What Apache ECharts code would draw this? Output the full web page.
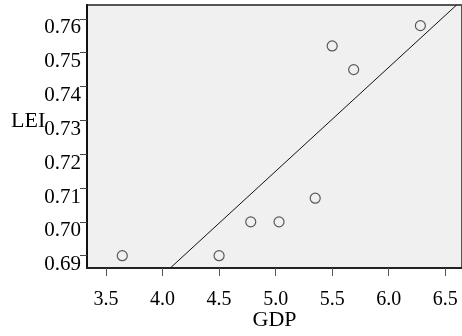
<!DOCTYPE html>
<html><head><meta charset="utf-8">
<script src="https://cdn.jsdelivr.net/npm/echarts@6/dist/echarts.min.js"></script>
<style>html,body{margin:0;padding:0;background:#fff}#c{width:462px;height:336px}</style>
</head><body><div id="c"></div>
<script>
const gdp = [3.644, 4.50, 4.78, 5.03, 5.35, 5.50, 5.69, 6.28];
const lei = [0.690, 0.690, 0.700, 0.700, 0.707, 0.752, 0.745, 0.758];
const fitX = [4.07, 6.60];
const fitY = [0.6864, 0.7641];
const xTicks = [3.5, 4.0, 4.5, 5.0, 5.5, 6.0, 6.5];
const yTicks = [0.69, 0.70, 0.71, 0.72, 0.73, 0.74, 0.75, 0.76];

const font = '"Liberation Serif","Times New Roman",serif';
const chart = echarts.init(document.getElementById('c'));
chart.setOption({
  animation: false,
  grid: {left: 87, top: 5, right: 0, bottom: 68, show: true, backgroundColor: '#f0f0f0', borderColor: '#555', borderWidth: 2,
    containLabel: false, outerBoundsMode: 'none'},
  xAxis: {
    type: 'value', min: 3.332, max: 6.648,
    name: 'GDP', nameLocation: 'middle', nameGap: 41, nameMoveOverlap: false,
    nameTextStyle: {fontFamily: font, fontSize: 22, color: '#000'},
    axisLine: {show: true, lineStyle: {color: '#222', width: 2}},
    axisTick: {show: true, length: 8, customValues: xTicks, lineStyle: {color: '#555'}},
    axisLabel: {customValues: xTicks, fontFamily: font, fontSize: 20, color: '#000', margin: 22,
      formatter: v => v.toFixed(1)},
    splitLine: {show: false}
  },
  yAxis: {
    type: 'value', min: 0.68636, max: 0.7641,
    axisLine: {show: true, lineStyle: {color: '#111', width: 2}},
    axisTick: {show: true, length: 7, customValues: yTicks, lineStyle: {color: '#444'}},
    axisLabel: {customValues: yTicks, fontFamily: font, fontSize: 21, color: '#000', margin: 6,
      verticalAlign: 'top', lineHeight: 18,
      formatter: v => v.toFixed(2)},
    splitLine: {show: false}
  },
  graphic: [{type: 'text', left: 11, top: 110, style: {text: 'LEI', font: '22px ' + font, fill: '#000'}}],
  series: [
    {type: 'scatter', data: gdp.map((x, i) => [x, lei[i]]), symbol: 'circle', symbolSize: 10,
      itemStyle: {color: 'rgba(0,0,0,0)', borderColor: '#333', borderWidth: 1.2}},
    {type: 'line', data: fitX.map((x, i) => [x, fitY[i]]), symbol: 'none',
      lineStyle: {color: '#111', width: 1}}
  ]
});
</script></body></html>
